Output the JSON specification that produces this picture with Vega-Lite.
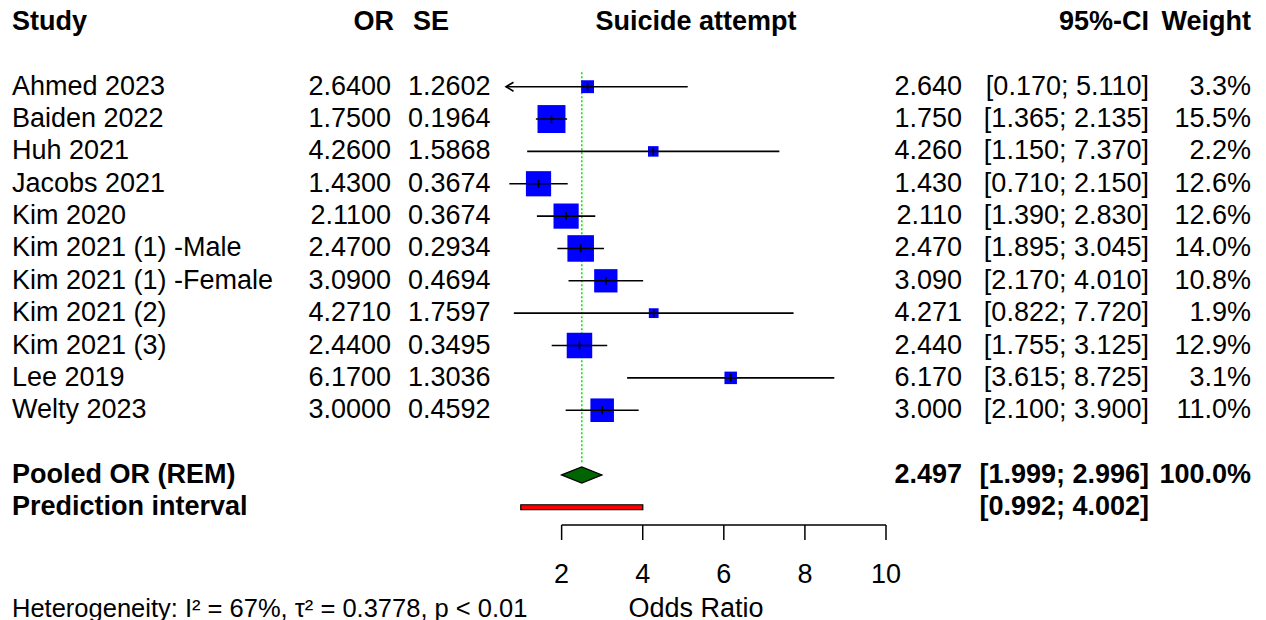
{
  "$schema": "https://vega.github.io/schema/vega-lite/v6.json",
  "padding": {"left": 12, "top": 0, "right": 0, "bottom": 0},
  "bounds": "flush",
  "spacing": 0,
  "config": {
    "view": {"stroke": null},
    "text": {"font": "Liberation Sans", "fontSize": 27, "baseline": "middle", "color": "black"}
  },
  "datasets": {
    "studies": [
      {"study": "Ahmed 2023", "or": 2.64, "se": 1.2602, "lo": 0.17, "hi": 5.11, "w": 0.033, "ci": "[0.170; 5.110]", "row": 0},
      {"study": "Baiden 2022", "or": 1.75, "se": 0.1964, "lo": 1.365, "hi": 2.135, "w": 0.155, "ci": "[1.365; 2.135]", "row": 1},
      {"study": "Huh 2021", "or": 4.26, "se": 1.5868, "lo": 1.15, "hi": 7.37, "w": 0.022, "ci": "[1.150; 7.370]", "row": 2},
      {"study": "Jacobs 2021", "or": 1.43, "se": 0.3674, "lo": 0.71, "hi": 2.15, "w": 0.126, "ci": "[0.710; 2.150]", "row": 3},
      {"study": "Kim 2020", "or": 2.11, "se": 0.3674, "lo": 1.39, "hi": 2.83, "w": 0.126, "ci": "[1.390; 2.830]", "row": 4},
      {"study": "Kim 2021 (1) -Male", "or": 2.47, "se": 0.2934, "lo": 1.895, "hi": 3.045, "w": 0.14, "ci": "[1.895; 3.045]", "row": 5},
      {"study": "Kim 2021 (1) -Female", "or": 3.09, "se": 0.4694, "lo": 2.17, "hi": 4.01, "w": 0.108, "ci": "[2.170; 4.010]", "row": 6},
      {"study": "Kim 2021 (2)", "or": 4.271, "se": 1.7597, "lo": 0.822, "hi": 7.72, "w": 0.019, "ci": "[0.822; 7.720]", "row": 7},
      {"study": "Kim 2021 (3)", "or": 2.44, "se": 0.3495, "lo": 1.755, "hi": 3.125, "w": 0.129, "ci": "[1.755; 3.125]", "row": 8},
      {"study": "Lee 2019", "or": 6.17, "se": 1.3036, "lo": 3.615, "hi": 8.725, "w": 0.031, "ci": "[3.615; 8.725]", "row": 9},
      {"study": "Welty 2023", "or": 3.0, "se": 0.4592, "lo": 2.1, "hi": 3.9, "w": 0.11, "ci": "[2.100; 3.900]", "row": 10}
    ],
    "summary": [
      {"label": "Pooled OR (REM)", "kind": "pooled", "est": 2.497, "lo": 1.999, "hi": 2.996, "w": 1.0, "ci": "[1.999; 2.996]", "row": 12},
      {"label": "Prediction interval", "kind": "pi", "lo": 0.992, "hi": 4.002, "ci": "[0.992; 4.002]", "row": 13}
    ],
    "headers": [
      {"col": "study", "text": "Study"},
      {"col": "or", "text": "OR"},
      {"col": "se", "text": "SE"},
      {"col": "plot", "text": "Suicide attempt"},
      {"col": "ci", "text": "95%-CI"},
      {"col": "weight", "text": "Weight"},
      {"col": "xtitle", "text": "Odds Ratio"}
    ],
    "ticks": [{"v": 2}, {"v": 4}, {"v": 6}, {"v": 8}, {"v": 10}],
    "notes": [{"text": "Heterogeneity: I² = 67%, τ² = 0.3778, p < 0.01"}]
  },
  "hconcat": [
    {
      "width": 288, "height": 620,
      "layer": [
        {"data": {"name": "headers"}, "transform": [{"filter": "datum.col === 'study'"}],
         "mark": {"type": "text", "align": "left", "fontWeight": "bold"},
         "encoding": {"x": {"value": 0}, "y": {"datum": -2, "type": "quantitative", "scale": {"domain": [-2.68, 16.485], "reverse": true, "nice": false, "zero": false, "padding": 0}, "axis": null}, "text": {"field": "text"}}},
        {"data": {"name": "studies"},
         "mark": {"type": "text", "align": "left"},
         "encoding": {"x": {"value": 0}, "y": {"field": "row", "type": "quantitative", "scale": {"domain": [-2.68, 16.485], "reverse": true, "nice": false, "zero": false, "padding": 0}, "axis": null}, "text": {"field": "study"}}},
        {"data": {"name": "summary"},
         "mark": {"type": "text", "align": "left", "fontWeight": "bold"},
         "encoding": {"x": {"value": 0}, "y": {"field": "row", "type": "quantitative", "scale": {"domain": [-2.68, 16.485], "reverse": true, "nice": false, "zero": false, "padding": 0}, "axis": null}, "text": {"field": "label"}}},
        {"data": {"name": "notes"},
         "mark": {"type": "text", "align": "left", "fontSize": 25.5},
         "encoding": {"x": {"value": 0}, "y": {"datum": 16.13, "type": "quantitative", "scale": {"domain": [-2.68, 16.485], "reverse": true, "nice": false, "zero": false, "padding": 0}, "axis": null}, "text": {"field": "text"}}}
      ]
    },
    {
      "width": 91, "height": 620,
      "layer": [
        {"data": {"name": "headers"}, "transform": [{"filter": "datum.col === 'or'"}],
         "mark": {"type": "text", "align": "right", "fontWeight": "bold", "dx": 3},
         "encoding": {"x": {"value": "width"}, "y": {"datum": -2, "type": "quantitative", "scale": {"domain": [-2.68, 16.485], "reverse": true, "nice": false, "zero": false, "padding": 0}, "axis": null}, "text": {"field": "text"}}},
        {"data": {"name": "studies"},
         "mark": {"type": "text", "align": "right"},
         "encoding": {"x": {"value": "width"}, "y": {"field": "row", "type": "quantitative", "scale": {"domain": [-2.68, 16.485], "reverse": true, "nice": false, "zero": false, "padding": 0}, "axis": null}, "text": {"field": "or", "type": "quantitative", "format": ".4f"}}}
      ]
    },
    {
      "width": 115, "height": 620,
      "layer": [
        {"data": {"name": "headers"}, "transform": [{"filter": "datum.col === 'se'"}],
         "mark": {"type": "text", "align": "left", "fontWeight": "bold", "dx": 22},
         "encoding": {"x": {"value": 0}, "y": {"datum": -2, "type": "quantitative", "scale": {"domain": [-2.68, 16.485], "reverse": true, "nice": false, "zero": false, "padding": 0}, "axis": null}, "text": {"field": "text"}}},
        {"data": {"name": "studies"},
         "mark": {"type": "text", "align": "left", "dx": 17},
         "encoding": {"x": {"value": 0}, "y": {"field": "row", "type": "quantitative", "scale": {"domain": [-2.68, 16.485], "reverse": true, "nice": false, "zero": false, "padding": 0}, "axis": null}, "text": {"field": "se", "type": "quantitative", "format": ".4f"}}}
      ]
    },
    {
      "width": 380, "height": 620,
      "layer": [
        {"data": {"name": "summary"}, "transform": [{"filter": "datum.kind === 'pooled'"}],
         "mark": {"type": "rule", "color": "#00F000", "strokeDash": [2, 2], "strokeWidth": 1.6},
         "encoding": {
           "x": {"field": "est", "type": "quantitative", "scale": {"domain": [0.628, 10], "clamp": true, "nice": false, "zero": false, "padding": 0}, "axis": null},
           "y": {"datum": -0.45, "type": "quantitative", "scale": {"domain": [-2.68, 16.485], "reverse": true, "nice": false, "zero": false, "padding": 0}, "axis": null},
           "y2": {"datum": 11.63}}},
        {"data": {"name": "studies"},
         "mark": {"type": "point", "shape": "square", "filled": true, "color": "#0000FF", "opacity": 1, "strokeWidth": 0},
         "encoding": {
           "x": {"field": "or", "type": "quantitative", "scale": {"domain": [0.628, 10], "clamp": true, "nice": false, "zero": false, "padding": 0}, "axis": null},
           "y": {"field": "row", "type": "quantitative", "scale": {"domain": [-2.68, 16.485], "reverse": true, "nice": false, "zero": false, "padding": 0}, "axis": null},
           "size": {"field": "w", "type": "quantitative", "scale": {"type": "linear", "domain": [0, 0.155], "range": [0, 781]}, "legend": null}}},
        {"data": {"name": "studies"},
         "mark": {"type": "rule", "color": "black", "strokeWidth": 1.6},
         "encoding": {
           "x": {"field": "lo", "type": "quantitative", "scale": {"domain": [0.628, 10], "clamp": true, "nice": false, "zero": false, "padding": 0}, "axis": null},
           "x2": {"field": "hi"},
           "y": {"field": "row", "type": "quantitative", "scale": {"domain": [-2.68, 16.485], "reverse": true, "nice": false, "zero": false, "padding": 0}, "axis": null}}},
        {"data": {"name": "studies"},
         "mark": {"type": "point", "shape": "M 0 -1 L 0 1", "size": 64, "filled": false, "stroke": "black", "strokeWidth": 1.6, "opacity": 1},
         "encoding": {
           "x": {"field": "or", "type": "quantitative", "scale": {"domain": [0.628, 10], "clamp": true, "nice": false, "zero": false, "padding": 0}, "axis": null},
           "y": {"field": "row", "type": "quantitative", "scale": {"domain": [-2.68, 16.485], "reverse": true, "nice": false, "zero": false, "padding": 0}, "axis": null}}},
        {"data": {"name": "studies"}, "transform": [{"filter": "datum.lo < 0.628"}],
         "mark": {"type": "point", "shape": "M 1 -0.6 L 0 0 L 1 0.6", "size": 225, "filled": false, "stroke": "black", "strokeWidth": 1.6, "opacity": 1},
         "encoding": {
           "x": {"field": "lo", "type": "quantitative", "scale": {"domain": [0.628, 10], "clamp": true, "nice": false, "zero": false, "padding": 0}, "axis": null},
           "y": {"field": "row", "type": "quantitative", "scale": {"domain": [-2.68, 16.485], "reverse": true, "nice": false, "zero": false, "padding": 0}, "axis": null}}},
        {"data": {"name": "summary"}, "transform": [{"filter": "datum.kind === 'pooled'"}],
         "mark": {"type": "point", "shape": "M -1 0 L 0 -0.4 L 1 0 L 0 0.4 Z", "size": 1632, "filled": true, "fill": "#006400", "stroke": "black", "strokeWidth": 1.2, "opacity": 1},
         "encoding": {
           "x": {"field": "est", "type": "quantitative", "scale": {"domain": [0.628, 10], "clamp": true, "nice": false, "zero": false, "padding": 0}, "axis": null},
           "y": {"field": "row", "type": "quantitative", "scale": {"domain": [-2.68, 16.485], "reverse": true, "nice": false, "zero": false, "padding": 0}, "axis": null}}},
        {"data": {"name": "summary"}, "transform": [{"filter": "datum.kind === 'pi'"}],
         "mark": {"type": "bar", "orient": "horizontal", "size": 5, "fill": "#FF0000", "stroke": "black", "strokeWidth": 1.2},
         "encoding": {
           "x": {"field": "lo", "type": "quantitative", "scale": {"domain": [0.628, 10], "clamp": true, "nice": false, "zero": false, "padding": 0}, "axis": null},
           "x2": {"field": "hi"},
           "y": {"field": "row", "type": "quantitative", "scale": {"domain": [-2.68, 16.485], "reverse": true, "nice": false, "zero": false, "padding": 0}, "axis": null}}},
        {"data": {"name": "ticks"},
         "mark": {"type": "rule", "color": "black", "strokeWidth": 1.5},
         "encoding": {
           "x": {"aggregate": "min", "field": "v", "type": "quantitative", "scale": {"domain": [0.628, 10], "clamp": true, "nice": false, "zero": false, "padding": 0}, "axis": null},
           "x2": {"aggregate": "max", "field": "v"},
           "y": {"datum": 13.548, "type": "quantitative", "scale": {"domain": [-2.68, 16.485], "reverse": true, "nice": false, "zero": false, "padding": 0}, "axis": null}}},
        {"data": {"name": "ticks"},
         "mark": {"type": "rule", "color": "black", "strokeWidth": 1.5},
         "encoding": {
           "x": {"field": "v", "type": "quantitative", "scale": {"domain": [0.628, 10], "clamp": true, "nice": false, "zero": false, "padding": 0}, "axis": null},
           "y": {"datum": 13.548, "type": "quantitative", "scale": {"domain": [-2.68, 16.485], "reverse": true, "nice": false, "zero": false, "padding": 0}, "axis": null},
           "y2": {"datum": 14.012}}},
        {"data": {"name": "ticks"},
         "mark": {"type": "text", "align": "center"},
         "encoding": {
           "x": {"field": "v", "type": "quantitative", "scale": {"domain": [0.628, 10], "clamp": true, "nice": false, "zero": false, "padding": 0}, "axis": null},
           "y": {"datum": 15.08, "type": "quantitative", "scale": {"domain": [-2.68, 16.485], "reverse": true, "nice": false, "zero": false, "padding": 0}, "axis": null},
           "text": {"field": "v", "type": "quantitative"}}},
        {"data": {"name": "headers"}, "transform": [{"filter": "datum.col === 'plot'"}],
         "mark": {"type": "text", "align": "center", "fontWeight": "bold"},
         "encoding": {
           "y": {"datum": -2, "type": "quantitative", "scale": {"domain": [-2.68, 16.485], "reverse": true, "nice": false, "zero": false, "padding": 0}, "axis": null},
           "text": {"field": "text"}}},
        {"data": {"name": "headers"}, "transform": [{"filter": "datum.col === 'xtitle'"}],
         "mark": {"type": "text", "align": "center"},
         "encoding": {
           "y": {"datum": 16.13, "type": "quantitative", "scale": {"domain": [-2.68, 16.485], "reverse": true, "nice": false, "zero": false, "padding": 0}, "axis": null},
           "text": {"field": "text"}}}
      ]
    },
    {
      "width": 76, "height": 620,
      "layer": [
        {"data": {"name": "studies"},
         "mark": {"type": "text", "align": "right"},
         "encoding": {"x": {"value": "width"}, "y": {"field": "row", "type": "quantitative", "scale": {"domain": [-2.68, 16.485], "reverse": true, "nice": false, "zero": false, "padding": 0}, "axis": null}, "text": {"field": "or", "type": "quantitative", "format": ".3f"}}},
        {"data": {"name": "summary"}, "transform": [{"filter": "datum.kind === 'pooled'"}],
         "mark": {"type": "text", "align": "right", "fontWeight": "bold"},
         "encoding": {"x": {"value": "width"}, "y": {"field": "row", "type": "quantitative", "scale": {"domain": [-2.68, 16.485], "reverse": true, "nice": false, "zero": false, "padding": 0}, "axis": null}, "text": {"field": "est", "type": "quantitative", "format": ".3f"}}}
      ]
    },
    {
      "width": 187, "height": 620,
      "layer": [
        {"data": {"name": "headers"}, "transform": [{"filter": "datum.col === 'ci'"}],
         "mark": {"type": "text", "align": "right", "fontWeight": "bold"},
         "encoding": {"x": {"value": "width"}, "y": {"datum": -2, "type": "quantitative", "scale": {"domain": [-2.68, 16.485], "reverse": true, "nice": false, "zero": false, "padding": 0}, "axis": null}, "text": {"field": "text"}}},
        {"data": {"name": "studies"},
         "mark": {"type": "text", "align": "right"},
         "encoding": {"x": {"value": "width"}, "y": {"field": "row", "type": "quantitative", "scale": {"domain": [-2.68, 16.485], "reverse": true, "nice": false, "zero": false, "padding": 0}, "axis": null}, "text": {"field": "ci"}}},
        {"data": {"name": "summary"},
         "mark": {"type": "text", "align": "right", "fontWeight": "bold"},
         "encoding": {"x": {"value": "width"}, "y": {"field": "row", "type": "quantitative", "scale": {"domain": [-2.68, 16.485], "reverse": true, "nice": false, "zero": false, "padding": 0}, "axis": null}, "text": {"field": "ci"}}}
      ]
    },
    {
      "width": 102, "height": 620,
      "layer": [
        {"data": {"name": "headers"}, "transform": [{"filter": "datum.col === 'weight'"}],
         "mark": {"type": "text", "align": "right", "fontWeight": "bold"},
         "encoding": {"x": {"value": "width"}, "y": {"datum": -2, "type": "quantitative", "scale": {"domain": [-2.68, 16.485], "reverse": true, "nice": false, "zero": false, "padding": 0}, "axis": null}, "text": {"field": "text"}}},
        {"data": {"name": "studies"},
         "mark": {"type": "text", "align": "right"},
         "encoding": {"x": {"value": "width"}, "y": {"field": "row", "type": "quantitative", "scale": {"domain": [-2.68, 16.485], "reverse": true, "nice": false, "zero": false, "padding": 0}, "axis": null}, "text": {"field": "w", "type": "quantitative", "format": ".1%"}}},
        {"data": {"name": "summary"}, "transform": [{"filter": "datum.kind === 'pooled'"}],
         "mark": {"type": "text", "align": "right", "fontWeight": "bold"},
         "encoding": {"x": {"value": "width"}, "y": {"field": "row", "type": "quantitative", "scale": {"domain": [-2.68, 16.485], "reverse": true, "nice": false, "zero": false, "padding": 0}, "axis": null}, "text": {"field": "w", "type": "quantitative", "format": ".1%"}}}
      ]
    }
  ]
}
